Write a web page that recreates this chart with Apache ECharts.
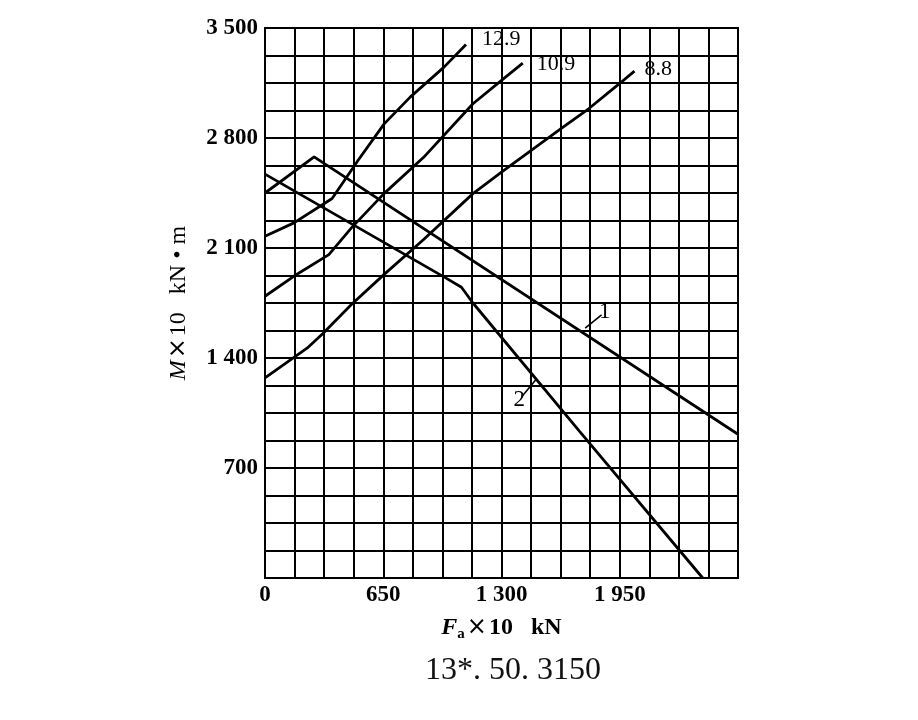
<!DOCTYPE html>
<html>
<head>
<meta charset="utf-8">
<script src="https://cdn.jsdelivr.net/npm/echarts@6/dist/echarts.min.js"></script>
<style>
  html, body { margin: 0; padding: 0; background: #fff; }
  #chart { width: 918px; height: 720px; }
</style>
</head>
<body>
<div id="chart"></div>
<script>
// axis ticks
var xTicks = [0, 650, 1300, 1950];
var yTicks = [700, 1400, 2100, 2800, 3500];

// curve 1 and 2 (falling)
var c1X = [0, 270, 2600];
var c1Y = [2450, 2680, 915];
var c2X = [0, 1000, 1080, 1143, 1728, 2406];
var c2Y = [2570, 1905, 1850, 1750, 935, 0];

// bolt grades (rising)
var g88X = [0, 237, 317, 475, 655, 872, 1143, 1300, 1625, 1779, 1938, 2031];
var g88Y = [1273, 1468, 1554, 1740, 1932, 2154, 2446, 2583, 2858, 2986, 3136, 3226];
var g109X = [0, 158, 351, 475, 654, 872, 1143, 1300, 1417];
var g109Y = [1793, 1920, 2058, 2228, 2446, 2677, 3018, 3167, 3276];
var g129X = [0, 159, 369, 511, 655, 798, 984, 1105];
var g129Y = [2175, 2260, 2415, 2657, 2890, 3060, 3251, 3395];

// leader lines for labels "1" and "2"
var lead1 = [[1760, 1590], [1850, 1675]];
var lead2 = [[1491, 1265], [1411, 1153]];

function pairs(xs, ys) {
    return xs.map(function (x, i) { return [x, ys[i]]; });
}
function fmtNum(v) {
    return v >= 1000 ? Math.floor(v / 1000) + ' ' + String(v % 1000).padStart(3, '0') : String(v);
}

var serif = 'Liberation Serif';
var lineStyle = { color: '#000', width: 2.8 };

function curve(name, xs, ys, offset) {
    return {
        name: name,
        type: 'line',
        data: pairs(xs, ys),
        showSymbol: false,
        symbol: 'none',
        lineStyle: lineStyle,
        animation: false,
        endLabel: {
            show: true,
            formatter: name,
            offset: offset,
            color: '#000',
            fontFamily: serif,
            fontSize: 22
        }
    };
}

function leader(pts, text) {
    return {
        silent: true,
        symbol: 'none',
        animation: false,
        lineStyle: { color: '#000', width: 1.6, type: 'solid' },
        label: {
            show: true, position: 'end', formatter: text, distance: 4,
            color: '#000', fontFamily: serif, fontSize: 23
        },
        data: [[{ coord: pts[0] }, { coord: pts[1] }]]
    };
}

var s1 = {
    name: '1', type: 'line', data: pairs(c1X, c1Y),
    showSymbol: false, symbol: 'none', lineStyle: lineStyle, animation: false,
    markLine: leader(lead1, '1')
};
var s2 = {
    name: '2', type: 'line', data: pairs(c2X, c2Y),
    showSymbol: false, symbol: 'none', lineStyle: lineStyle, animation: false,
    markLine: leader(lead2, '2')
};

var option = {
    backgroundColor: '#fff',
    title: {
        text: '13*. 50. 3150',
        left: 420,
        top: 650,
        textStyle: { fontFamily: serif, fontSize: 32, fontWeight: 'normal', color: '#111' }
    },
    grid: {
        left: 265, right: 180, top: 28, bottom: 142,
        show: true, borderColor: '#000', borderWidth: 2
    },
    xAxis: {
        type: 'value',
        min: 0, max: 2600, interval: 162.5,
        name: '{i|F}{sub|a}{x|×}10   kN',
        nameLocation: 'middle',
        nameGap: 35,
        nameTextStyle: {
            color: '#000', fontFamily: serif, fontSize: 24, fontWeight: 'bold',
            rich: {
                i: { fontFamily: serif, fontSize: 24, fontStyle: 'italic', fontWeight: 'bold', color: '#000' },
                sub: { fontFamily: serif, fontSize: 15, fontWeight: 'bold', color: '#000', padding: [14, 0, 0, 0] },
                x: { fontFamily: 'DejaVu Sans', fontSize: 24, fontWeight: 'normal', color: '#000', padding: [0, 2, 0, 2] }
            }
        },
        axisLine: { lineStyle: { color: '#000', width: 2 } },
        axisTick: { show: false },
        splitLine: { show: true, lineStyle: { color: '#000', width: 2 } },
        axisLabel: {
            color: '#000', fontFamily: serif, fontSize: 23, fontWeight: 'bold', margin: 6,
            showMaxLabel: false,
            formatter: function (v) {
                return xTicks.indexOf(v) >= 0 ? fmtNum(v) : '';
            }
        }
    },
    yAxis: {
        type: 'value',
        min: 0, max: 3500, interval: 175,
        name: '{i|M}{x|×}10   kN • m',
        nameLocation: 'middle',
        nameRotate: 90,
        nameGap: 74,
        nameTextStyle: {
            color: '#000', fontFamily: serif, fontSize: 24,
            rich: {
                i: { fontFamily: serif, fontSize: 24, fontStyle: 'italic', color: '#000' },
                x: { fontFamily: 'DejaVu Sans', fontSize: 24, fontWeight: 'normal', color: '#000', padding: [0, 2, 0, 2] }
            }
        },
        axisLine: { show: true, lineStyle: { color: '#000', width: 2 } },
        axisTick: { show: false },
        splitLine: { show: true, lineStyle: { color: '#000', width: 2 } },
        axisLabel: {
            color: '#000', fontFamily: serif, fontSize: 23, fontWeight: 'bold', margin: 7,
            formatter: function (v) {
                return yTicks.indexOf(v) >= 0 ? fmtNum(v) : '';
            }
        }
    },
    series: [
        s1,
        s2,
        curve('8.8', g88X, g88Y, [2, -2]),
        curve('10.9', g109X, g109Y, [6, 1]),
        curve('12.9', g129X, g129Y, [8, -5])
    ]
};

var myChart = echarts.init(document.getElementById('chart'));
myChart.setOption(option);
</script>
</body>
</html>
